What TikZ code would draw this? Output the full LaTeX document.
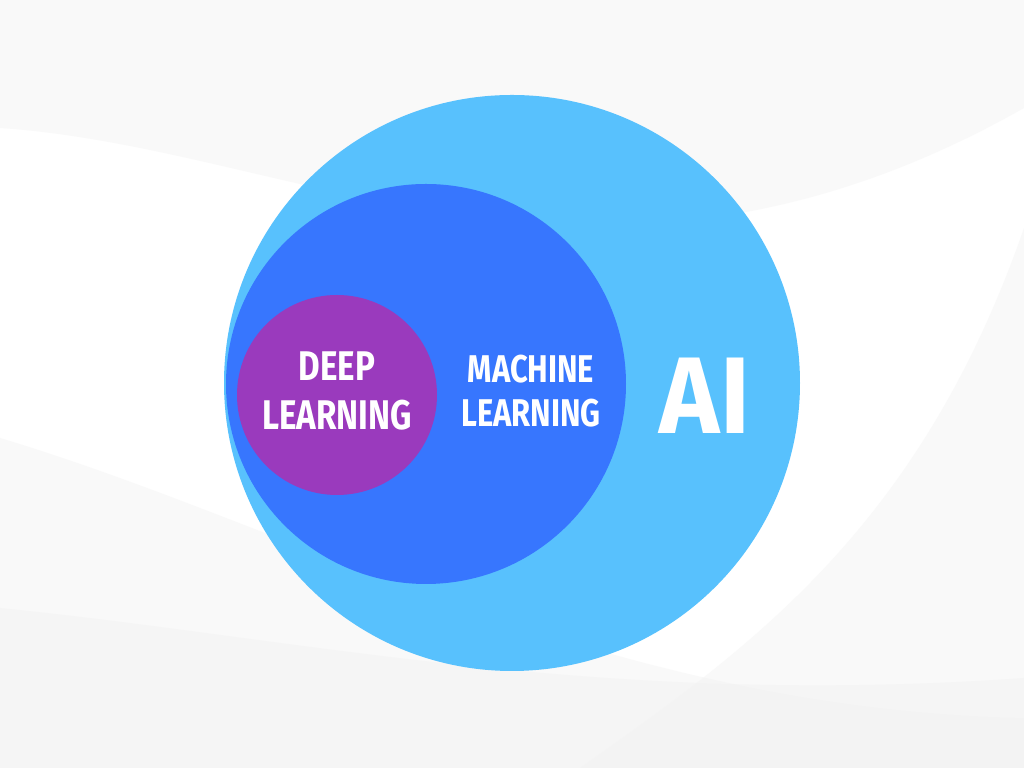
\documentclass[tikz,border=0pt]{standalone}
\usepackage{fontspec}
\usepackage{xcolor}
\usepackage{tikz}
\usetikzlibrary{positioning}
\newfontfamily\etiqueta{Fira Sans}
\definecolor{aiazul}{HTML}{58C1FD}
\definecolor{mlazul}{HTML}{3776FE}
\definecolor{dlmorado}{HTML}{9A3ABD}
\definecolor{ondagris}{HTML}{F2F2F2}

\begin{document}
\begin{tikzpicture}[
					% Estilos del dibujo
					conjunto/.style={circle, inner sep=0pt, draw=none},
					texto/.style={align=center, text=white, font=\etiqueta\bfseries, xscale=0.8, transform shape},
					onda/.style={fill=ondagris, draw=none, opacity=0.45}
				]
				% Marco y fondo
				\useasboundingbox (0,0) rectangle (10.24,7.68);
				\fill[white] (0,0) rectangle (10.24,7.68);
				\fill[onda] (0,6.4) .. controls (3,6.2) and (6,4.2) .. (10.24,6.6) -- (10.24,7.68) -- (0,7.68) -- cycle;
				\fill[onda] (0,3.3) .. controls (3,2.4) and (6,0.6) .. (10.24,0.5) -- (10.24,0) -- (0,0) -- cycle;
				\fill[onda] (0,1.6) .. controls (3,1.3) and (6,0.6) .. (10.24,0.9) -- (10.24,0) -- (0,0) -- cycle;
				\fill[onda] (5.8,0) .. controls (7.5,1.2) and (9.2,2.4) .. (10.24,5.4) -- (10.24,0) -- cycle;
				% Conjuntos
				\node[conjunto, fill=aiazul, minimum size=5.76cm] (ia) at (5.12,3.85) {};
				\node[conjunto, fill=mlazul, minimum size=4.00cm] (aa) at (4.26,3.84) {};
				\node[conjunto, fill=dlmorado, minimum size=2.00cm] (ap) at (3.37,3.73) {};
				% Etiquetas
				\node[texto, font=\etiqueta\bfseries\fontsize{11.8}{14.2}\selectfont] (txt_ap) at (3.37,3.77) {DEEP\\LEARNING};
				\node[texto, font=\etiqueta\bfseries\fontsize{11}{12.4}\selectfont] (txt_aa) at (5.31,3.77) {MACHINE\\LEARNING};
				\node[texto, font=\etiqueta\bfseries\fontsize{31}{36}\selectfont, xscale=1.17] (txt_ia) at (7.05,3.72) {AI};
			\end{tikzpicture}
\end{document}
